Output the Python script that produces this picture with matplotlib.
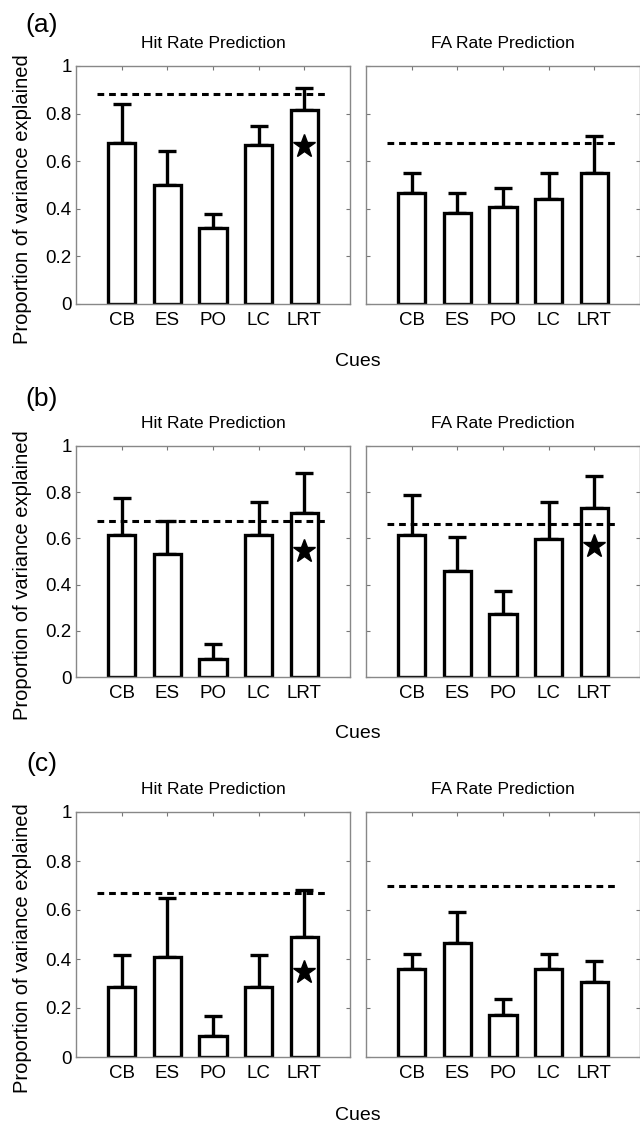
import matplotlib
matplotlib.use("Agg")
import matplotlib.pyplot as plt

plt.rcParams['font.family'] = ['Liberation Sans', 'DejaVu Sans']

cues = ['CB', 'ES', 'PO', 'LC', 'LRT']

# (a)
a_hit = [0.678, 0.499, 0.319, 0.666, 0.815]
a_hit_top = [0.839, 0.643, 0.378, 0.748, 0.906]
a_hit_ref = 0.882
a_hit_star = 0.664
a_fa = [0.465, 0.381, 0.408, 0.442, 0.549]
a_fa_top = [0.552, 0.466, 0.487, 0.549, 0.706]
a_fa_ref = 0.677
a_fa_star = None

# (b)
b_hit = [0.615, 0.532, 0.079, 0.614, 0.712]
b_hit_top = [0.777, 0.676, 0.141, 0.758, 0.882]
b_hit_ref = 0.677
b_hit_star = 0.546
b_fa = [0.616, 0.461, 0.273, 0.596, 0.731]
b_fa_top = [0.786, 0.608, 0.374, 0.759, 0.871]
b_fa_ref = 0.664
b_fa_star = 0.569

# (c)
c_hit = [0.286, 0.407, 0.087, 0.286, 0.490]
c_hit_top = [0.415, 0.649, 0.166, 0.415, 0.680]
c_hit_ref = 0.671
c_hit_star = 0.347
c_fa = [0.359, 0.467, 0.171, 0.359, 0.308]
c_fa_top = [0.419, 0.592, 0.237, 0.419, 0.392]
c_fa_ref = 0.700
c_fa_star = None

panels = [
    ('(a)', (a_hit, a_hit_top, a_hit_ref, a_hit_star), (a_fa, a_fa_top, a_fa_ref, a_fa_star)),
    ('(b)', (b_hit, b_hit_top, b_hit_ref, b_hit_star), (b_fa, b_fa_top, b_fa_ref, b_fa_star)),
    ('(c)', (c_hit, c_hit_top, c_hit_ref, c_hit_star), (c_fa, c_fa_top, c_fa_ref, c_fa_star)),
]

W, H = 640, 1125
fig = plt.figure(figsize=(W / 100, H / 100), dpi=100)

# pixel layout: (top, bottom) of each row
rows = [(66, 304), (446, 677), (812, 1057)]
cols = [(76, 350), (366, 640)]
label_y = [25, 399, 764]
cues_y = [362, 733, 1116]


def draw(ax, vals, tops, ref, star, show_y):
    x = list(range(1, len(vals) + 1))
    err = [t - v for t, v in zip(tops, vals)]
    ax.bar(x, vals, width=0.6, color='white', edgecolor='black', linewidth=2.4, zorder=2)
    ax.errorbar(x, vals, yerr=[[0] * len(vals), err], fmt='none', ecolor='black',
                elinewidth=2.4, capsize=6.5, capthick=2.4, zorder=1)
    ax.plot([0.45, 5.45], [ref, ref], color='black', lw=2.2, ls=(0, (2.2, 1.6)), zorder=3)
    if star is not None:
        ax.plot(x[-1], star, marker='*', color='black', ms=17, ls='none', zorder=4)
    ax.set_xlim(0, 6)
    ax.set_ylim(0, 1)
    ax.set_xticks(x)
    ax.set_xticklabels(cues)
    ax.set_yticks([0, 0.2, 0.4, 0.6, 0.8, 1])
    ax.set_yticklabels(['0', '0.2', '0.4', '0.6', '0.8', '1'] if show_y else [])
    ax.tick_params(direction='in', top=True, right=True, length=3, width=0.8,
                   color='#777777', labelsize=13.5, pad=3)
    ax.tick_params(axis='x', pad=6)
    for s in ax.spines.values():
        s.set_color('#888888')
        s.set_linewidth(1.0)


for (lab, hit, fa), (top, bot), ly, cy in zip(panels, rows, label_y, cues_y):
    for j, ((l, r), data, title) in enumerate(zip(cols, (hit, fa), ('Hit Rate Prediction', 'FA Rate Prediction'))):
        ax = fig.add_axes([l / W, 1 - bot / H, (r - l) / W, (bot - top) / H])
        draw(ax, *data, show_y=(j == 0))
        ax.set_title(title, fontsize=12.5, pad=13)
    fig.text(42 / W, 1 - ly / H, lab, fontsize=19, ha='center', va='center')
    fig.text(358 / W, 1 - cy / H, 'Cues', fontsize=14, ha='center', va='center')
    fig.text(23 / W, 1 - ((top + bot) / 2 + 14) / H, 'Proportion of variance explained',
             fontsize=14.5, rotation=90, ha='center', va='center')

fig.savefig('out.png', dpi=100)
